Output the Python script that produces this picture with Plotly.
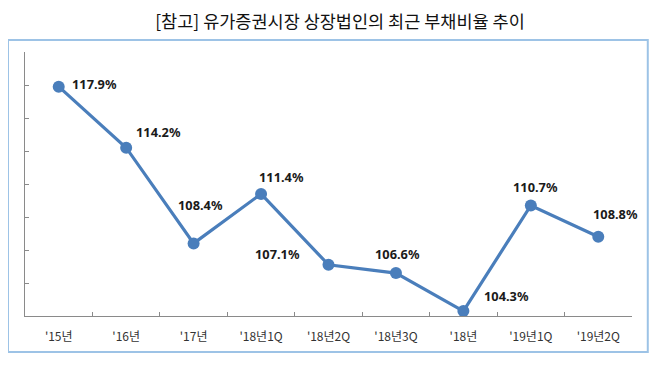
import plotly.graph_objects as go

categories = ["'15년", "'16년", "'17년", "'18년1Q", "'18년2Q", "'18년3Q", "'18년", "'19년1Q", "'19년2Q"]
values = [117.9, 114.2, 108.4, 111.4, 107.1, 106.6, 104.3, 110.7, 108.8]
label_texts = ["117.9%", "114.2%", "108.4%", "111.4%", "107.1%", "106.6%", "104.3%", "110.7%", "108.8%"]
# label offsets in pixels (xshift, yshift)
label_shifts = [(36, 3), (32, 16), (7, 38), (20, 17), (-51, 11), (2, 19), (43, 15), (5, 18), (17, 23)]

blue = "#4A7EBB"

fig = go.Figure()
fig.add_trace(go.Scatter(
    x=categories, y=values, mode="lines+markers",
    line=dict(color=blue, width=3.2),
    marker=dict(color=blue, size=12),
    hoverinfo="skip", showlegend=False,
))

for c, v, t, (dx, dy) in zip(categories, values, label_texts, label_shifts):
    fig.add_annotation(x=c, y=v, text="<b>" + t + "</b>", showarrow=False,
                       xshift=dx, yshift=dy,
                       font=dict(family="Noto Sans, Liberation Sans, sans-serif", size=12.8, color="#1a1a1a"))

fig.add_shape(type="rect", xref="paper", yref="paper",
              x0=-0.028, x1=1.026, y0=-0.136, y1=1.045,
              line=dict(color="#9DC3E6", width=2), fillcolor="rgba(0,0,0,0)", layer="below")

# page body has an 8px default margin; margins compensate for it
fig.update_layout(
    width=660, height=365,
    margin=dict(l=17, r=36, t=44, b=57),
    paper_bgcolor="white", plot_bgcolor="white",
    title=dict(text="[참고] 유가증권시장 상장법인의 최근 부채비율 추이",
               x=0.503, xref="container", y=0.962, yref="container", xanchor="center", yanchor="middle",
               font=dict(family="Noto Sans CJK KR", size=17.5, color="#111111")),
    xaxis=dict(type="category", showline=True, linecolor="#8a8a8a", linewidth=1,
               ticks="inside", ticklen=4, tickcolor="#8a8a8a", tickson="boundaries",
               showgrid=False, zeroline=False, ticklabelstandoff=10,
               tickfont=dict(family="Noto Sans CJK KR", size=12, color="#333333"),
               range=[-0.5, 8.5], fixedrange=True),
    yaxis=dict(range=[104, 120], dtick=2, showline=True, linecolor="#8a8a8a", linewidth=1,
               ticks="inside", ticklen=4, tickcolor="#8a8a8a", showticklabels=False,
               showgrid=False, zeroline=False, fixedrange=True),
)

fig.write_html("out.html")
